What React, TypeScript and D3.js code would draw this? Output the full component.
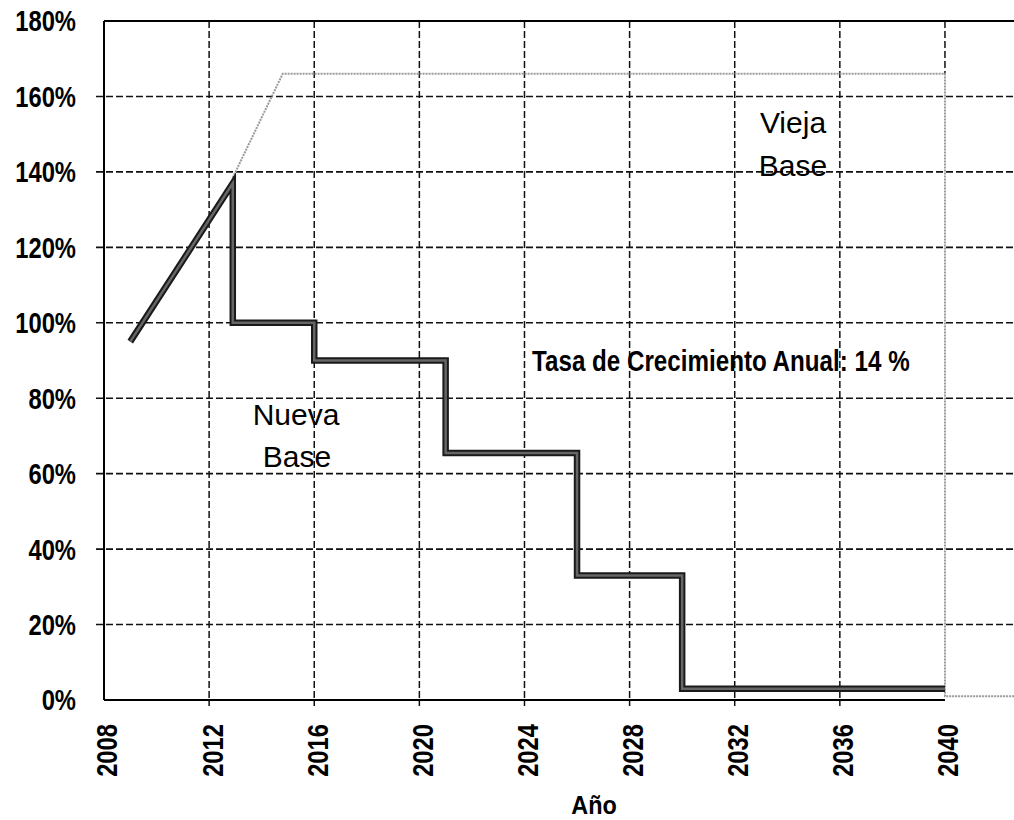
import { scaleLinear, line as d3Line } from "d3";

// values
const yTicks = [0, 20, 40, 60, 80, 100, 120, 140, 160, 180];
const xTicks = [2008, 2012, 2016, 2020, 2024, 2028, 2032, 2036, 2040];

// "Nueva Base" – growth, then stepwise reduction
const nuevaYears = [2009, 2012.9, 2012.9, 2016, 2016, 2021, 2021, 2026, 2026, 2030, 2030, 2040];
const nuevaValues = [95, 137, 100, 100, 90, 90, 65.5, 65.5, 33, 33, 3, 3];

// "Vieja Base"
const viejaYears = [2012.9, 2014.8, 2040, 2040, 2044];
const viejaValues = [138.5, 166, 166, 1, 1];

const WIDTH = 1014;
const HEIGHT = 820;
const MARGINS = { top: 21, bottom: 120, left: 104 };
// no narrow font installed, so squeeze horizontally
const NARROW = 0.82;

const FONT = "'Liberation Sans', Arial, sans-serif";

const x = scaleLinear().domain([2008, 2044]).range([MARGINS.left, MARGINS.left + 36 * 26.28]);
const y = scaleLinear().domain([0, 180]).range([HEIGHT - MARGINS.bottom, MARGINS.top]);

const NarrowText = ({ tx, ty, rotate, anchor, size, bold, squeeze, children }: any) => (
  <text
    transform={`translate(${tx}, ${ty})${rotate ? ` rotate(${rotate})` : ""} scale(${squeeze ?? NARROW}, 1)`}
    dy={rotate ? "0.36em" : anchor === "end" ? "0.36em" : 0}
    textAnchor={anchor || "start"}
    fontFamily={FONT}
    fontWeight={bold ? "bold" : "normal"}
    fontSize={size}
    fill="#000"
  >
    {children}
  </text>
);

const App = () => {
  const nuevaPath = d3Line<number>()
    .x((d) => x(d))
    .y((_, i) => y(nuevaValues[i]))(nuevaYears);
  const viejaPath = d3Line<number>()
    .x((d) => x(d))
    .y((_, i) => y(viejaValues[i]))(viejaYears);

  const left = x(2008);
  const bottom = y(0);
  const top = y(180);

  return (
    <svg
      width={WIDTH}
      height={HEIGHT}
      style={{ position: "absolute", left: 0, top: 0, background: "white" }}
    >
      {/* horizontal grid */}
      {yTicks.slice(1, -1).map((t) => (
        <line
          key={"h" + t}
          x1={left - 8}
          x2={WIDTH}
          y1={y(t)}
          y2={y(t)}
          stroke="#111"
          strokeWidth={1.6}
          strokeDasharray="7,3"
        />
      ))}
      {/* vertical grid */}
      {xTicks.slice(1).map((t) => (
        <line
          key={"v" + t}
          x1={x(t)}
          x2={x(t)}
          y1={top}
          y2={t === 2040 ? y(viejaValues[2]) : bottom + 6}
          stroke="#111"
          strokeWidth={1.5}
          strokeDasharray="7,3"
        />
      ))}

      {/* frame */}
      <line x1={left} x2={WIDTH} y1={top} y2={top} stroke="#000" strokeWidth={2} />
      <line x1={left} x2={left} y1={top} y2={bottom} stroke="#000" strokeWidth={2} />
      <line x1={left} x2={x(2040)} y1={bottom} y2={bottom} stroke="#000" strokeWidth={2} />

      {/* series */}
      <path d={viejaPath ?? ""} fill="none" stroke="#9a9a9a" strokeWidth={2} strokeDasharray="2,1" />
      <path d={nuevaPath ?? ""} fill="none" stroke="#1a1a1a" strokeWidth={6.5} strokeLinejoin="miter" />
      <path d={nuevaPath ?? ""} fill="none" stroke="#666" strokeWidth={2.5} strokeLinejoin="miter" />

      {/* y tick labels */}
      {yTicks.map((t) => (
        <NarrowText key={"yl" + t} tx={left - 28} ty={y(t)} anchor="end" size={29} bold>
          {t}%
        </NarrowText>
      ))}

      {/* x tick labels */}
      {xTicks.map((t) => (
        <NarrowText key={"xl" + t} tx={x(t) + 3} ty={bottom + 24} rotate={-90} anchor="end" size={29} bold>
          {t}
        </NarrowText>
      ))}

      <NarrowText tx={594} ty={814} anchor="middle" size={26} bold squeeze={0.9}>
        Año
      </NarrowText>

      {/* annotations */}
      <text x={296} y={425} textAnchor="middle" fontFamily={FONT} fontSize={30}>
        Nueva
      </text>
      <text x={297} y={467} textAnchor="middle" fontFamily={FONT} fontSize={30}>
        Base
      </text>
      <text x={793} y={133} textAnchor="middle" fontFamily={FONT} fontSize={30}>
        Vieja
      </text>
      <text x={793} y={176} textAnchor="middle" fontFamily={FONT} fontSize={30}>
        Base
      </text>
      <NarrowText tx={532} ty={371} size={29.5} bold>
        Tasa de Crecimiento Anual: 14 %
      </NarrowText>
    </svg>
  );
};

export default App;
